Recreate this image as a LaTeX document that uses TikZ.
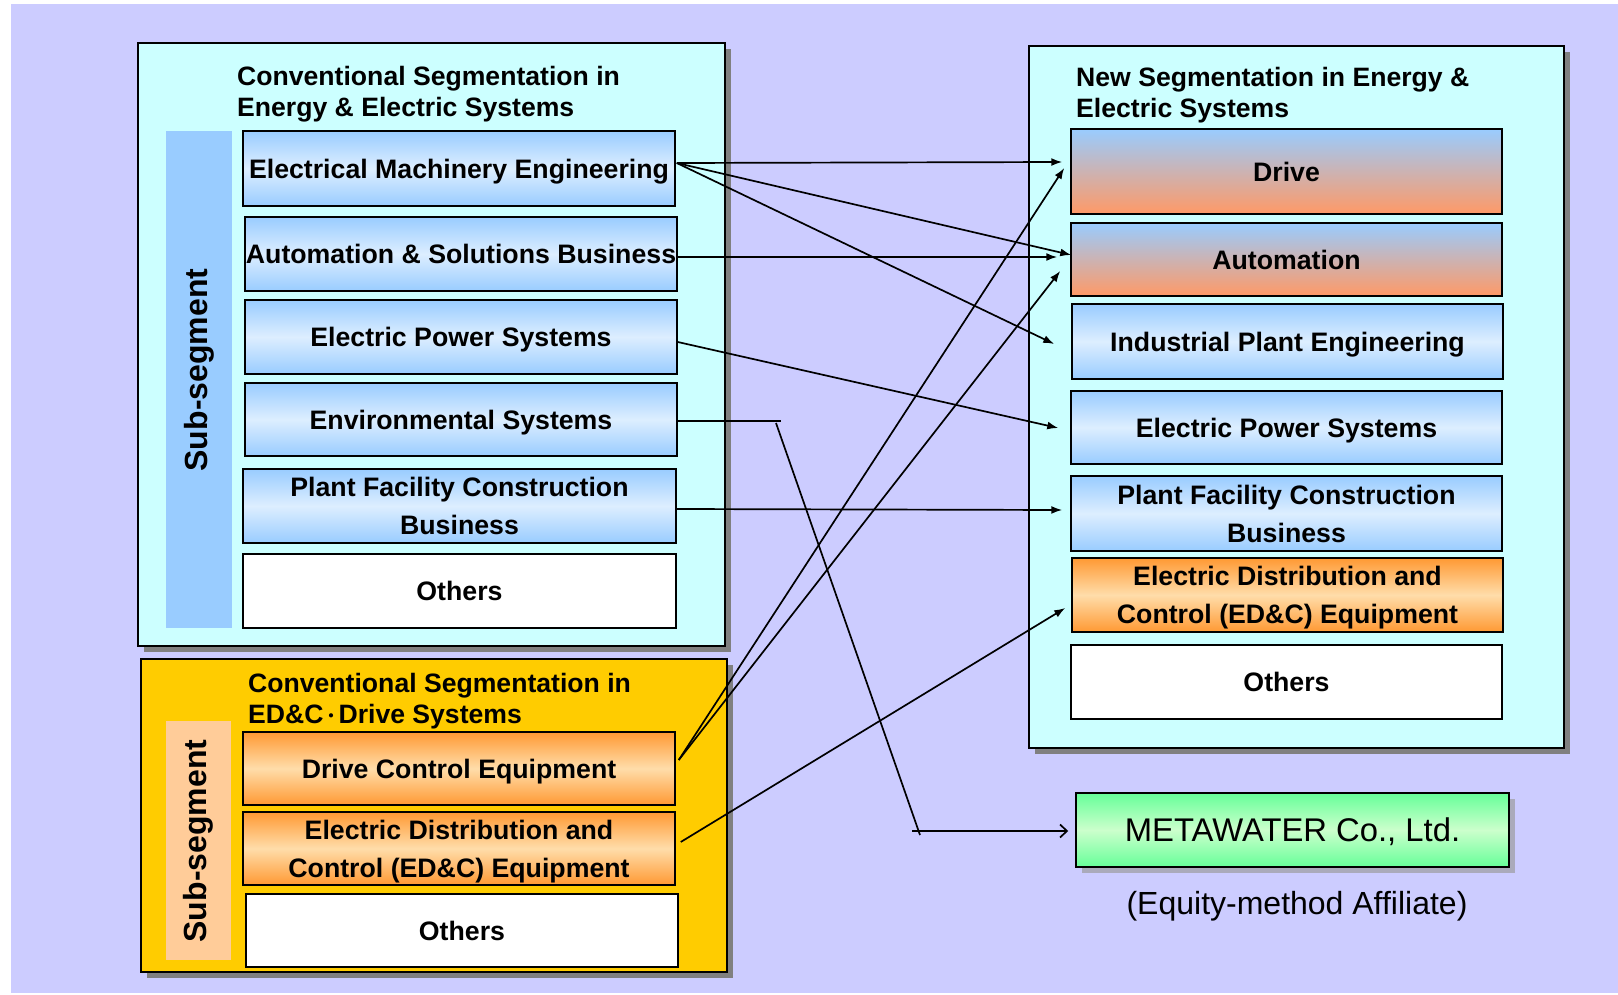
\documentclass[tikz,border=0pt]{standalone}
\usepackage{fontspec}
\setmainfont{Liberation Sans}
\newfontfamily\cjk{Noto Sans CJK JP}
\usetikzlibrary{arrows.meta,shadows,calc}
\definecolor{bgc}{HTML}{CCCCFF}
\definecolor{cyanf}{HTML}{CCFFFF}
\definecolor{goldf}{HTML}{FFCC00}
\definecolor{barblue}{HTML}{99CCFF}
\definecolor{barpeach}{HTML}{FFCC99}
\definecolor{bA}{HTML}{99CCFF}
\definecolor{bL}{HTML}{DDEEFF}
\definecolor{oB}{HTML}{FF9966}
\definecolor{oA}{HTML}{FF9933}
\definecolor{oL}{HTML}{FFDDAA}
\definecolor{gA}{HTML}{66FF99}
\definecolor{gL}{HTML}{CCFFCC}
\definecolor{shd}{HTML}{808080}
\definecolor{shdl}{HTML}{AAAABB}
\tikzset{
  box/.style={draw=black, line width=1.5pt, inner sep=0pt, align=center, text depth=0pt,
    font=\fontsize{26.7}{38}\selectfont\bfseries, text=black},
  bluebox/.style={box, top color=bA, bottom color=bA, middle color=bL},
  bobox/.style={box, top color=bA, bottom color=oB},
  orbox/.style={box, top color=oA, bottom color=oA, middle color=oL},
  whbox/.style={box, fill=white},
  frame/.style={draw=black, line width=1.5pt, inner sep=0pt,
    drop shadow={shadow xshift=6pt, shadow yshift=-6pt, fill=shd, opacity=1}},
  bar/.style={inner sep=0pt},
  ttl/.style={anchor=north west, inner sep=0pt, align=left,
    font=\fontsize{26.6}{31.5}\selectfont\bfseries},
  subs/.style={rotate=90, inner sep=0pt, font=\fontsize{32}{32}\selectfont\bfseries},
  arr/.style={line width=1.7pt, -{Latex[length=11pt,width=8pt]}},
  openarr/.style={line width=1.7pt, -{Straight Barb[length=7pt,width=13pt]}},
  ln/.style={line width=1.7pt}
}
\begin{document}
\begin{tikzpicture}[x=1pt,y=-1pt]
\useasboundingbox (0,0) rectangle (1618,995);
\fill[white] (0,0) rectangle (1618,995);
\fill[bgc] (11,4) rectangle (1618,993);

% frames
\node[frame, fill=cyanf, minimum width=587, minimum height=603] (frameL) at (431.5,344.5) {};
\node[frame, fill=cyanf, minimum width=535, minimum height=702] (frameR) at (1296.5,397) {};
\node[frame, fill=goldf, minimum width=586, minimum height=313] (frameB) at (434,815.5) {};

% sub-segment bars
\node[bar, fill=barblue, minimum width=66, minimum height=497] (barL) at (199,379.5) {};
\node[bar, fill=barpeach, minimum width=65, minimum height=239] (barB) at (198.5,840.5) {};
\node[subs] (sL) at (199,370) {Sub-segment};
\node[subs] (sB) at (198.5,841) {Sub-segment};

% titles
\node[ttl] (tL) at (237,66) {Conventional Segmentation in\\Energy \& Electric Systems};
\node[ttl] (tR) at (1076,67) {New Segmentation in Energy \&\\Electric Systems};
\node[ttl] (tB) at (248,673) {Conventional Segmentation in\\ED\&C\raisebox{2.3pt}{\cjk\fontsize{15}{15}\selectfont ・}Drive Systems};

% left upper boxes
\node[bluebox, minimum width=432, minimum height=75] (eme) at (459,168.5) {Electrical Machinery Engineering};
\node[bluebox, minimum width=432, minimum height=74] (asb) at (461,254) {Automation \& Solutions Business};
\node[bluebox, minimum width=432, minimum height=74] (epsL) at (461,337) {Electric Power Systems};
\node[bluebox, minimum width=432, minimum height=73] (env) at (461,419.5) {Environmental Systems};
\node[bluebox, minimum width=433, minimum height=74] (pfcL) at (459.5,506) {Plant Facility Construction\\Business};
\node[whbox, minimum width=433, minimum height=74] (othL) at (459.5,591) {Others};

% bottom left boxes
\node[orbox, minimum width=432, minimum height=73] (dce) at (459,768.5) {Drive Control Equipment};
\node[orbox, minimum width=432, minimum height=73] (edcL) at (459,848.5) {Electric Distribution and\\Control (ED\&C) Equipment};
\node[whbox, minimum width=432, minimum height=73] (othB) at (462,930.5) {Others};

% right boxes
\node[bobox, minimum width=431, minimum height=85] (drive) at (1286.5,171.5) {Drive};
\node[bobox, minimum width=431, minimum height=73] (autoR) at (1286.5,259.5) {Automation};
\node[bluebox, minimum width=431, minimum height=75] (ipe) at (1287.5,341.5) {Industrial Plant Engineering};
\node[bluebox, minimum width=431, minimum height=73] (epsR) at (1286.5,427.5) {Electric Power Systems};
\node[bluebox, minimum width=431, minimum height=75] (pfcR) at (1286.5,513.5) {Plant Facility Construction\\Business};
\node[orbox, minimum width=431, minimum height=74] (edcR) at (1287.5,595) {Electric Distribution and\\Control (ED\&C) Equipment};
\node[whbox, minimum width=431, minimum height=74] (othR) at (1286.5,682) {Others};

% METAWATER
\node[draw=black, line width=1.5pt, top color=gA, bottom color=gA, middle color=gL,
  minimum width=433, minimum height=74, inner sep=0pt, text depth=0pt,
  font=\fontsize{32.8}{33}\selectfont,
  drop shadow={shadow xshift=6pt, shadow yshift=-6pt, fill=shdl, opacity=1}] (meta) at (1292.5,830) {METAWATER Co., Ltd.};
\node[inner sep=0pt, font=\fontsize{32}{32}\selectfont] (aff) at (1297,906) {(Equity-method Affiliate)};

% junction coordinates for the METAWATER route
\coordinate (j1) at (781,421);
\coordinate (j2s) at (776,423);
\coordinate (j2e) at (920,835);
\coordinate (j3) at (912,831);

% connectors
\draw[arr] ($(eme.east)+(1,-5.5)$) -- ($(drive.west)+(-8,-9.5)$);
\draw[arr] ($(eme.east)+(1,-5.5)$) -- ($(autoR.west)+(1,-4.5)$);
\draw[arr] ($(eme.east)+(1,-5.5)$) -- ($(ipe.west)+(-17,2.5)$);
\draw[arr] ($(asb.east)+(0,3)$) -- ($(autoR.west)+(-13,-2.5)$);
\draw[arr] ($(epsL.east)+(0,5)$) -- ($(epsR.west)+(-12,0.5)$);
\draw[ln] ($(env.east)+(0,1.5)$) -- (j1);
\draw[ln] (j2s) -- (j2e);
\draw[openarr] (j3) -- ($(meta.west)+(-7,1)$);
\draw[arr] ($(pfcL.east)+(0,3)$) -- ($(pfcR.west)+(-8,-3.5)$);
\draw[arr] ($(dce.east)+(3,-8.5)$) -- ($(drive.west)+(-6,-3.5)$);
\draw[arr] ($(dce.east)+(3,-8.5)$) -- ($(autoR.west)+(-10,11.5)$);
\draw[arr] ($(edcL.east)+(5,-6.5)$) -- ($(edcR.west)+(-6,13)$);
\end{tikzpicture}
\end{document}
